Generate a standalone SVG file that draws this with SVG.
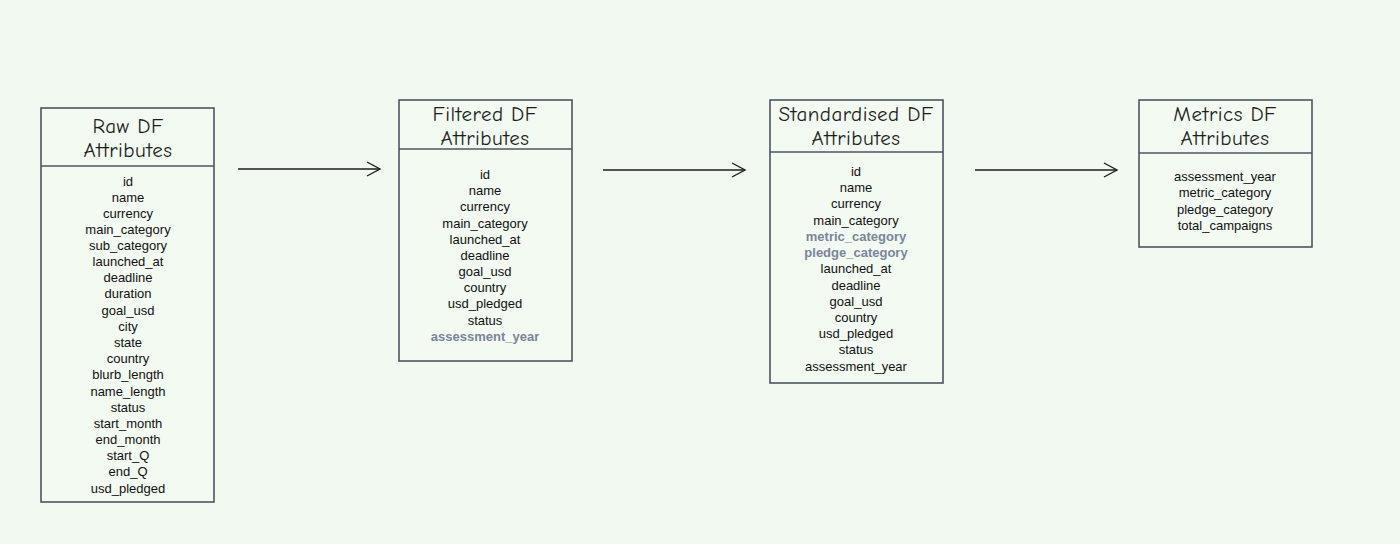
<svg xmlns="http://www.w3.org/2000/svg" width="1400" height="544" viewBox="0 0 1400 544">
<defs>
<style>
.box{fill:#f2faf1;stroke:#4b5660;stroke-width:1.6}
.div{stroke:#4b5660;stroke-width:1.6}
.title{font-family:"Comic Neue","Liberation Sans",sans-serif;font-size:21px;fill:#1e1e1e;text-anchor:middle;letter-spacing:0.5px}
.it{font-family:"Liberation Sans",Arial,sans-serif;font-size:13px;fill:#111;text-anchor:middle}
.hl{font-family:"Liberation Sans",Arial,sans-serif;font-size:13px;fill:#7a8599;font-weight:bold;text-anchor:middle}
.conn{stroke:#1e1e1e;stroke-width:1.4;fill:none}
</style>
<marker id="ah" markerWidth="16" markerHeight="16" refX="14" refY="8" orient="auto" markerUnits="userSpaceOnUse">
<path d="M1,1 L14,8 L1,15" fill="none" stroke="#1e1e1e" stroke-width="1.4"/>
</marker>
</defs>
<rect width="1400" height="544" fill="#f1f9f0"/>
<g id="raw">
<rect class="box" x="41" y="108" width="173" height="394"/>
<line class="div" x1="41" y1="166" x2="214" y2="166"/>
<text class="title" x="128" y="133">Raw DF</text>
<text class="title" x="128" y="157">Attributes</text>
<text class="it" x="128" y="186">id</text>
<text class="it" x="128" y="202">name</text>
<text class="it" x="128" y="218">currency</text>
<text class="it" x="128" y="234">main_category</text>
<text class="it" x="128" y="250">sub_category</text>
<text class="it" x="128" y="266">launched_at</text>
<text class="it" x="128" y="282">deadline</text>
<text class="it" x="128" y="298">duration</text>
<text class="it" x="128" y="315">goal_usd</text>
<text class="it" x="128" y="331">city</text>
<text class="it" x="128" y="347">state</text>
<text class="it" x="128" y="363">country</text>
<text class="it" x="128" y="379">blurb_length</text>
<text class="it" x="128" y="396">name_length</text>
<text class="it" x="128" y="412">status</text>
<text class="it" x="128" y="428">start_month</text>
<text class="it" x="128" y="444">end_month</text>
<text class="it" x="128" y="460">start_Q</text>
<text class="it" x="128" y="476">end_Q</text>
<text class="it" x="128" y="493">usd_pledged</text>
</g>
<g id="filtered">
<rect class="box" x="399" y="100" width="173" height="261"/>
<line class="div" x1="399" y1="149" x2="572" y2="149"/>
<text class="title" x="485" y="121">Filtered DF</text>
<text class="title" x="485" y="145">Attributes</text>
<text class="it" x="485" y="179">id</text>
<text class="it" x="485" y="195">name</text>
<text class="it" x="485" y="211">currency</text>
<text class="it" x="485" y="228">main_category</text>
<text class="it" x="485" y="244">launched_at</text>
<text class="it" x="485" y="260">deadline</text>
<text class="it" x="485" y="276">goal_usd</text>
<text class="it" x="485" y="292">country</text>
<text class="it" x="485" y="308">usd_pledged</text>
<text class="it" x="485" y="325">status</text>
<text class="hl" x="485" y="341">assessment_year</text>
</g>
<g id="standardised">
<rect class="box" x="770" y="100" width="173" height="283"/>
<line class="div" x1="770" y1="152" x2="943" y2="152"/>
<text class="title" x="856" y="121">Standardised DF</text>
<text class="title" x="856" y="145">Attributes</text>
<text class="it" x="856" y="176">id</text>
<text class="it" x="856" y="192">name</text>
<text class="it" x="856" y="208">currency</text>
<text class="it" x="856" y="225">main_category</text>
<text class="hl" x="856" y="241">metric_category</text>
<text class="hl" x="856" y="257">pledge_category</text>
<text class="it" x="856" y="273">launched_at</text>
<text class="it" x="856" y="290">deadline</text>
<text class="it" x="856" y="306">goal_usd</text>
<text class="it" x="856" y="322">country</text>
<text class="it" x="856" y="338">usd_pledged</text>
<text class="it" x="856" y="354">status</text>
<text class="it" x="856" y="371">assessment_year</text>
</g>
<g id="metrics">
<rect class="box" x="1139" y="100" width="173" height="147"/>
<line class="div" x1="1139" y1="153" x2="1312" y2="153"/>
<text class="title" x="1225" y="121">Metrics DF</text>
<text class="title" x="1225" y="145">Attributes</text>
<text class="it" x="1225" y="181">assessment_year</text>
<text class="it" x="1225" y="197">metric_category</text>
<text class="it" x="1225" y="214">pledge_category</text>
<text class="it" x="1225" y="230">total_campaigns</text>
</g>
<g id="connectors">
<line class="conn" x1="238" y1="169" x2="380" y2="169" marker-end="url(#ah)"/>
<line class="conn" x1="603" y1="170" x2="745" y2="170" marker-end="url(#ah)"/>
<line class="conn" x1="975" y1="170" x2="1117" y2="170" marker-end="url(#ah)"/>
</g>
</svg>
